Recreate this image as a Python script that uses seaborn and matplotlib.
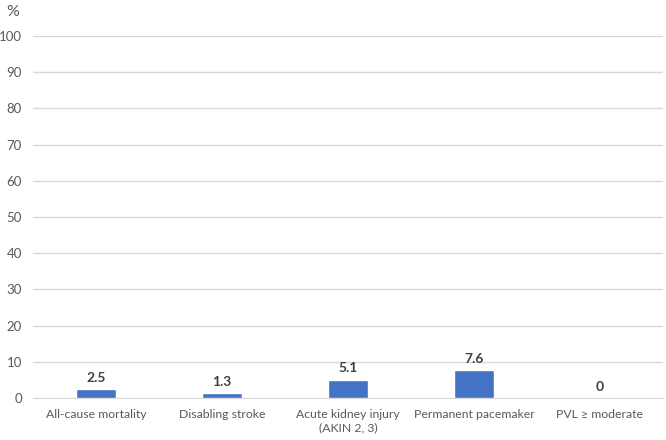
import matplotlib
matplotlib.use("Agg")
import matplotlib.pyplot as plt
import seaborn as sns
import pandas as pd

# Dados
categorias = ["All-cause mortality", "Disabling stroke", "Acute kidney injury\n(AKIN 2, 3)",
              "Permanent pacemaker", "PVL \u2265 moderate"]
valores = [2.5, 1.3, 5.1, 7.6, 0]
yticks = [0, 10, 20, 30, 40, 50, 60, 70, 80, 90, 100]

df = pd.DataFrame({"cat": categorias, "val": valores})

sns.set_style("white")
plt.rcParams["font.family"] = ["Lato", "DejaVu Sans"]

fig = plt.figure(figsize=(6.66, 4.4), dpi=100)
ax = fig.add_axes([33 / 666, 42 / 440, 630 / 666, 362 / 440])

sns.barplot(data=df, x="cat", y="val", color="#4472C4", width=0.32,
            saturation=1, ax=ax, zorder=3)

ax.set_ylim(0, 100)
ax.set_xlim(-0.5, 4.5)
ax.set_yticks(yticks)
ax.yaxis.grid(True, color="#D9D9D9", linewidth=1, zorder=0)
ax.set_xlabel("")
ax.set_ylabel("")
for s in ["top", "right", "left"]:
    ax.spines[s].set_visible(False)
ax.spines["bottom"].set_color("#D9D9D9")
ax.tick_params(axis="both", length=0, colors="#595959")
ax.tick_params(axis="y", pad=8, labelsize=9.5)
ax.tick_params(axis="x", pad=8, labelsize=8.8)

# Rótulos dos valores
for i, v in enumerate(valores):
    ax.text(i, v + 1.4, f"{v:g}", ha="center", va="bottom", fontsize=10,
            fontweight="bold", color="#404040")

fig.text(6 / 666, 1 - 12 / 440, "%", fontsize=11.5, color="#595959", va="center", ha="left")

plt.savefig("out.png", dpi=100)
